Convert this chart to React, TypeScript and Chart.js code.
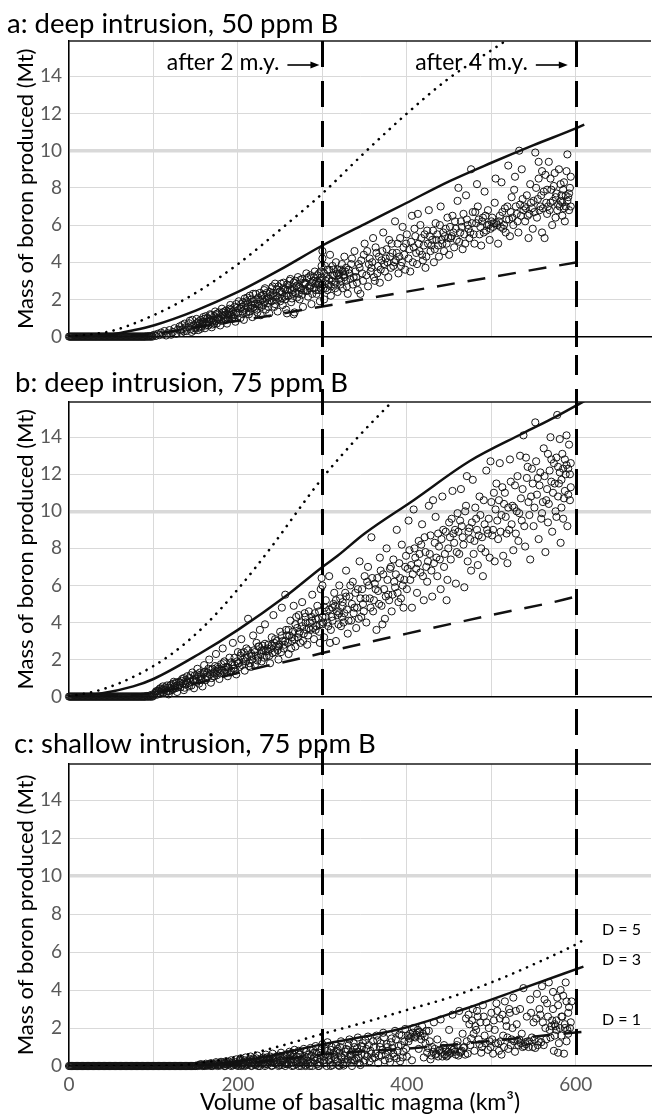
import React, { useEffect, useRef } from 'react';
import { Chart, registerables } from 'chart.js';

Chart.register(...registerables);

const FONT = 'Lato, "Open Sans", sans-serif';

// ---------- axes ----------
const X_MAX = 689;
const Y_MAX = 15.9;
const X_GRID = [0, 100, 200, 300, 400, 500, 600];
const X_LABELED = [0, 200, 400, 600];
const Y_TICKS = [0, 2, 4, 6, 8, 10, 12, 14];
const MARKER_VOLUMES = [300, 600];
const MARKER_LABELS = ['after 2 m.y.', 'after 4 m.y.'];
const Y_TITLE = 'Mass of boron produced (Mt)';
const X_TITLE = 'Volume of basaltic magma (km³)';
const D_LABELS = ['D = 5', 'D = 3', 'D = 1'];

// ---------- model curves [volume, Mt] ----------
const aD5 = [[0,0],[50,0.3],[100,1.15],[150,2.35],[200,3.9],[250,5.75],[300,7.7],[350,9.9],[400,12.0],[450,13.9],[500,15.4],[530,16.3]];
const aD3 = [[0,0],[25,0.02],[50,0.12],[75,0.33],[100,0.6],[150,1.4],[200,2.4],[250,3.6],[300,4.9],[350,6.05],[400,7.2],[450,8.35],[500,9.35],[550,10.3],[600,11.2],[610,11.4]];
const aD1 = [[0,0],[50,0.02],[100,0.15],[150,0.5],[200,0.85],[228,1.05],[300,1.62],[400,2.42],[500,3.2],[600,3.98],[610,4.05]];

const bD5 = [[0,0],[40,0.4],[80,1.15],[120,2.25],[160,3.8],[200,5.8],[240,8.1],[280,10.6],[300,11.8],[340,13.9],[380,15.8],[395,16.5]];
const bD3 = [[0,0],[36,0.15],[76,0.55],[100,0.95],[154,2.3],[200,3.6],[256,5.4],[300,7.0],[318,7.6],[350,8.8],[408,10.6],[474,12.7],[537,14.2],[576,15.1],[610,15.95]];
const bD1 = [[0,0],[100,0.2],[150,0.7],[193,1.2],[228,1.6],[263,1.95],[300,2.35],[400,3.4],[500,4.4],[600,5.4],[610,5.55]];

const cD5 = [[0,0],[100,0],[130,0.03],[154,0.15],[200,0.5],[250,1.05],[295,1.63],[350,2.3],[400,2.95],[450,3.6],[500,4.4],[550,5.35],[600,6.4],[609,6.63]];
const cD3 = [[0,0],[120,0],[150,0.02],[200,0.25],[250,0.65],[295,1.1],[350,1.55],[400,2.04],[470,3.03],[537,4.09],[609,5.23]];
const cD1 = [[0,0],[150,0],[200,0.1],[300,0.6],[424,1.0],[490,1.28],[568,1.63],[610,1.8]];

// ---------- model runs (scatter) ----------
const zeroBandAB = [0,1,2,3,4,5,6,7,8,9,10,11,12,13,14,15,16,17,18,19,20,21,22,23,24,25,26,27,28,29,30,31,32,33,34,35,36,37,38,39,40,41,42,43,44,45,46,47,48,49,50,51,52,53,54,55,56,57,58,59,60,61,62,63,64,65,66,67,68,69,70,71,72,73,74,75,76,77,78,79,80,81,82,83,84,85,86,87,88,89,90,91,93,94,96,97,99];
const zeroBandC = [0,1,2,3,4,5,6,7,8,9,10,11,12,13,14,15,16,17,18,19,20,21,22,23,24,25,26,27,28,29,30,31,32,33,34,35,36,37,38,39,40,41,42,43,44,45,46,47,48,49,50,51,52,53,54,55,56,57,58,59,60,61,62,63,64,65,66,67,68,69,70,71,72,73,74,75,76,77,78,79,80,81,82,83,84,85,86,87,88,89,90,91,92,93,94,95,96,97,98,99,100,101,102,103,104,105,106,107,108,109,110,111,112,113,114,115,116,117,118,119,120,121,122,123,124,125,126,127,128,129,130,131,132,133,134,135,136,137,138,139,140,141,142,143,144,145,146,147,148,149,150,160,168,176,184,192,200,208,216,224,232,240,248,256,264,272,280,288,296,310,320,335];

const scatterA = [
92,0.02,95,0.03,98,0.05,
101,0.1,103,0.04,105,0.15,107,0.08,109,0.22,111,0.12,113,0.3,115,0.06,117,0.18,119,0.35,121,0.1,123,0.25,125,0.45,127,0.15,129,0.38,
131,0.55,133,0.2,135,0.4,137,0.7,139,0.3,141,0.5,143,0.85,145,0.25,147,0.6,149,0.45,151,0.95,153,0.35,155,0.7,157,0.55,159,1.05,
161,0.45,163,0.8,165,0.6,167,1.2,169,0.5,171,0.9,173,1.35,175,0.7,177,1.0,179,0.6,181,1.5,183,0.85,185,1.15,187,0.7,189,1.3,191,1.7,193,0.95,195,1.2,197,0.8,199,1.55,
201,1.9,203,1.0,205,1.35,207,0.9,209,1.7,211,2.1,213,1.2,215,1.5,217,1.05,219,1.9,221,2.3,223,1.3,225,1.65,227,1.15,229,2.0,231,2.5,233,1.45,235,1.8,237,1.25,239,2.2,241,2.7,243,1.6,245,2.0,247,1.35,249,2.4,
251,2.85,253,1.7,255,2.15,257,1.45,259,2.5,261,3.0,263,1.85,265,2.3,267,1.3,269,2.7,271,3.2,273,2.0,275,2.5,277,1.6,279,2.85,281,3.4,283,2.15,285,2.6,287,1.75,289,3.0,291,3.5,293,2.3,295,2.8,297,1.9,299,3.2,300,4.6,300,4.2,299,3.8,298,2.6,296,3.4,258,1.25,266,1.2,
302,2.0,304,3.0,306,2.5,308,3.6,310,2.2,312,3.3,314,2.8,316,4.0,318,2.4,320,3.1,322,3.6,324,2.6,326,4.3,328,3.0,330,2.3,332,3.4,334,3.9,336,2.8,338,4.6,340,3.2,342,2.5,344,3.7,346,4.1,348,3.0,350,5.0,303,3.8,309,4.4,317,3.4,327,3.5,337,3.2,345,2.3,349,4.4,
352,3.3,354,2.7,356,4.2,358,3.7,360,5.3,362,3.0,364,4.5,366,3.8,368,2.9,370,4.1,372,5.6,374,3.5,376,4.7,378,3.2,380,4.3,382,5.0,384,3.8,386,6.2,388,4.5,390,3.4,392,5.3,394,4.0,396,4.8,398,3.6,400,5.5,355,3.9,365,3.4,375,4.2,385,4.0,395,5.9,
402,4.2,404,3.5,406,6.5,408,4.8,410,5.4,412,3.9,414,5.0,416,6.0,418,4.4,420,4.9,422,3.7,424,5.7,426,6.8,428,4.6,430,5.2,432,4.0,434,6.1,436,5.5,438,4.3,440,7.0,442,5.0,444,4.6,446,5.8,448,6.4,450,4.4,405,5.1,415,4.6,425,5.0,435,5.2,445,5.4,449,5.3,413,6.6,
452,5.3,454,6.5,456,4.8,458,5.8,460,7.3,462,5.1,464,6.2,466,4.7,468,5.5,470,7.6,472,6.0,474,5.3,476,9.0,478,6.7,480,5.0,482,6.1,484,7.0,486,5.5,488,4.9,490,6.4,492,7.8,494,5.7,496,6.8,498,5.2,500,6.2,455,5.6,465,5.9,475,5.6,485,6.3,495,6.0,461,8.0,483,8.2,
502,5.9,504,7.2,506,6.1,508,5.0,510,6.5,512,8.3,514,5.8,516,6.9,518,6.3,520,9.2,522,5.4,524,7.5,526,6.0,528,8.6,530,6.6,532,5.6,534,7.1,536,9.0,538,6.8,540,6.2,542,7.6,544,5.3,546,8.2,548,6.9,550,7.3,503,6.1,507,6.0,511,5.9,527,7.9,533,10.0,539,7.0,545,6.6,549,5.8,505,8.5,
552,9.9,554,6.4,556,8.5,558,7.0,560,5.6,562,7.8,564,8.7,566,6.6,568,9.4,570,7.2,572,6.0,574,8.1,576,7.5,578,6.8,580,9.0,582,7.3,584,6.5,586,8.3,588,7.0,590,9.8,592,6.8,594,8.6,555,7.4,561,6.9,567,7.0,573,7.3,579,7.1,583,7.6,587,6.2,591,7.5,593,8.0,563,5.3,575,8.8,585,7.9,589,8.9,
132,0.35,134,0.62,136,0.28,138,0.5,142,0.72,144,0.4,146,0.9,148,0.33,152,0.6,154,0.82,156,0.42,158,0.75,160,0.95,162,0.6,164,1.0,166,0.78,168,0.9,170,0.65,172,1.1,174,0.85,176,1.25,178,0.9,180,1.05,182,1.3,184,0.95,186,1.4,188,1.0,190,1.2,192,1.45,194,1.05,196,1.6,198,1.3,
202,1.5,204,1.75,206,1.2,208,1.45,210,1.9,212,1.6,214,1.35,216,2.0,218,1.55,220,1.75,222,1.45,224,2.1,226,1.9,228,1.6,230,2.25,232,1.85,234,2.05,236,1.6,238,2.4,240,1.9,242,2.15,244,1.75,246,2.55,248,2.1,250,1.9,252,2.4,254,2.6,256,2.0,258,2.8,260,2.2,262,2.55,264,2.05,266,2.9,268,2.35,270,2.1,272,2.65,274,3.05,276,2.25,278,2.5,280,2.9,282,2.45,284,3.2,286,2.75,288,2.3,290,2.6,292,2.85,294,3.3,296,2.5,298,3.0,
301,2.6,305,3.2,307,2.8,311,3.0,313,3.6,315,2.6,319,3.3,321,2.8,323,3.9,325,3.3,329,2.7,331,3.6,333,3.1,335,4.2,339,3.5,341,2.9,343,3.9,347,3.4,
353,4.6,357,3.5,359,4.0,361,3.2,363,4.8,367,4.3,369,3.6,371,4.6,373,3.9,377,4.0,379,5.2,381,3.7,383,4.5,387,4.1,389,5.0,391,4.3,393,3.8,397,4.4,399,5.0,
403,4.7,407,4.0,409,5.8,411,4.5,417,5.3,419,4.1,421,5.5,423,4.3,427,5.4,429,4.9,431,5.7,433,4.7,437,4.9,439,6.0,441,5.2,443,5.6,447,5.0,
451,5.9,453,5.4,457,6.2,459,5.2,463,5.6,467,6.6,469,5.0,471,6.3,473,5.8,477,6.1,479,5.5,481,6.7,487,5.9,489,6.2,491,5.6,493,6.5,497,6.0,499,5.8,
501,6.4,509,6.2,513,6.7,515,6.0,517,5.6,519,7.0,521,6.3,523,6.7,525,6.4,529,7.0,531,6.2,535,6.5,537,7.4,541,6.9,543,6.5,547,7.2,
551,6.7,553,8.0,557,6.8,559,7.6,565,7.2,569,6.8,571,7.9,577,7.7,581,7.0,584,7.2,586,6.9,590,7.3,592,7.7,594,7.0,588,7.6,582,8.2,576,6.4,570,8.5,566,7.9,560,8.9,556,9.4,
150,0.5,152,0.75,154,0.5,156,0.9,158,0.65,160,0.8,162,1.1,164,0.7,166,0.95,168,1.15,170,0.8,172,0.7,174,1.2,176,0.95,178,1.3,180,0.85,182,1.15,184,1.35,186,0.9,188,1.2,190,1.5,192,1.15,194,1.35,196,1.0,198,1.75,200,1.25,204,1.6,206,1.85,208,2.05,210,1.3,212,1.85,214,2.2,216,1.7,218,2.3,220,1.5,222,2.0,224,1.75,226,2.35,228,2.2,230,1.7,232,2.6,234,2.35,236,2.1,238,1.95,240,2.6,242,2.35,244,2.85,246,2.2,248,2.7,250,2.45,252,2.05,254,2.9,256,2.55,258,2.2,260,2.75,262,3.1,264,2.5,266,2.6,268,3.0,270,2.75,272,2.3,274,2.6,276,3.1,278,2.9,280,2.45,282,3.15,284,2.7,286,3.3,288,2.9,290,3.2,292,2.5,294,3.0,296,2.9,298,3.5,300,2.8,302,3.4,304,2.6,306,3.6,308,3.1,310,2.7,312,3.8,314,3.3,316,2.9,318,3.6,320,3.4,322,3.0,324,3.5,326,3.2,328,3.7
];

const scatterB = [
92,0.03,95,0.05,98,0.1,100,0.06,
102,0.2,104,0.1,106,0.3,108,0.15,110,0.4,112,0.22,114,0.5,116,0.3,118,0.12,120,0.6,122,0.35,124,0.7,126,0.45,128,0.25,130,0.8,132,0.5,134,0.95,136,0.35,138,0.65,140,1.1,142,0.55,144,0.8,146,1.3,148,0.45,150,0.95,
152,1.5,154,0.7,156,1.1,158,0.55,160,1.7,162,0.9,164,1.3,166,2.0,168,0.75,170,1.5,172,1.1,174,2.3,176,1.4,178,0.95,180,1.75,182,2.6,184,1.3,186,1.6,188,1.1,190,2.1,192,1.4,194,2.9,196,1.7,198,1.2,200,2.4,185,1.45,195,1.5,175,1.35,
202,1.6,204,3.1,206,2.0,208,1.4,210,2.6,212,4.2,214,1.8,216,2.3,218,3.3,220,1.7,222,2.9,224,2.1,226,3.6,228,1.9,230,2.5,232,3.9,234,2.2,236,2.8,238,1.8,240,3.2,242,4.4,244,2.4,246,3.0,248,2.0,250,3.5,215,1.6,225,2.7,235,2.6,245,2.7,
252,4.8,254,2.6,256,5.5,258,3.3,260,2.3,262,4.1,264,3.0,266,4.9,268,2.7,270,3.7,272,4.4,274,2.9,276,5.1,278,3.4,280,4.0,282,2.8,284,4.6,286,3.6,288,5.5,290,3.1,292,4.2,294,4.9,296,3.5,298,5.8,300,4.3,299,6.4,300,6.0,297,2.9,293,3.8,287,4.3,
302,3.2,304,5.2,306,4.0,308,6.5,310,3.6,312,4.8,314,5.6,316,3.0,318,4.4,320,6.0,322,3.8,324,5.1,326,4.5,328,6.8,330,3.4,332,5.4,334,4.1,336,6.2,338,4.8,340,3.7,342,5.8,344,7.3,346,4.3,348,5.0,350,6.5,305,4.6,315,4.9,325,4.0,335,5.0,345,5.3,309,2.9,
352,4.0,354,7.0,356,5.3,358,8.6,360,4.6,362,6.1,364,3.6,366,5.7,368,7.5,370,4.9,372,6.6,374,4.2,376,8.0,378,5.5,380,6.9,382,4.6,384,7.4,386,5.9,388,9.0,390,5.1,392,6.4,394,8.2,396,4.8,398,7.0,400,5.8,355,6.0,365,6.4,375,5.4,385,6.2,395,6.0,371,3.9,
402,9.5,404,6.3,406,4.8,408,10.1,410,7.5,412,5.6,414,8.4,416,6.7,418,9.3,420,5.2,422,7.8,424,6.2,426,10.3,428,8.7,430,5.4,432,7.2,434,9.7,436,6.5,438,8.1,440,5.8,442,10.8,444,7.0,446,8.9,448,6.3,450,9.4,405,7.1,415,7.7,425,7.3,435,7.5,445,7.7,431,10.6,447,5.2,
452,7.4,454,11.1,456,8.3,458,6.1,460,9.9,462,7.7,464,11.2,466,8.6,468,5.9,470,10.3,472,7.3,474,9.1,476,6.8,478,11.7,480,8.4,482,9.6,484,7.1,486,10.8,488,8.0,490,6.5,492,9.3,494,12.2,496,8.8,498,7.5,500,10.5,455,8.8,465,9.2,475,8.5,485,8.7,495,9.0,471,11.9,499,12.7,
502,9.0,504,7.3,506,11.5,508,8.5,510,12.6,512,9.8,514,7.6,516,11.0,518,8.8,520,10.2,522,12.8,524,9.3,526,7.9,528,11.4,530,10.0,532,8.4,534,13.0,536,9.5,538,14.1,540,8.1,542,11.8,544,10.5,546,7.4,548,12.3,550,9.2,505,10.1,515,10.4,525,10.3,535,10.7,545,9.8,519,7.2,541,12.9,
552,14.8,554,10.9,556,8.5,558,12.1,560,9.9,562,13.4,564,7.8,566,11.2,568,10.4,570,14.0,572,8.9,574,12.6,576,10.0,578,15.2,580,11.5,582,8.3,584,13.1,586,10.7,588,12.0,590,9.2,592,13.6,594,11.3,555,11.8,561,10.5,567,9.4,573,11.0,579,12.4,583,10.2,587,12.8,591,12.3,593,10.6,589,14.1,585,9.6,577,9.7,571,12.8,581,13.9,594,12.6,
101,0.12,103,0.28,105,0.18,107,0.4,109,0.25,111,0.55,113,0.35,115,0.2,117,0.48,119,0.3,121,0.65,123,0.42,125,0.55,127,0.75,129,0.5,131,0.62,133,0.85,135,0.7,137,0.48,139,0.9,141,0.72,143,1.0,145,0.6,147,0.9,149,1.15,151,0.8,153,1.05,155,1.3,157,0.9,159,1.2,161,1.35,163,1.05,165,1.5,167,1.2,169,1.0,171,1.3,173,1.65,175,1.15,177,1.5,179,1.25,181,1.4,183,1.8,187,1.35,189,1.55,191,1.3,193,1.7,197,1.4,199,1.9,
201,1.8,203,2.2,205,1.7,207,2.4,209,1.9,211,2.1,213,1.65,217,2.0,219,2.5,221,2.2,223,1.95,227,2.3,229,2.75,231,2.1,233,2.45,237,2.2,239,2.6,241,2.35,243,2.9,247,2.5,249,2.8,251,2.4,253,3.0,255,2.8,257,3.6,259,2.9,261,3.3,263,2.6,265,3.5,267,3.1,269,4.3,271,3.2,273,3.5,275,4.0,277,3.0,279,4.5,281,3.6,283,3.3,285,4.0,289,3.7,291,4.5,295,4.2,297,3.9,
301,4.0,303,4.8,307,3.8,311,4.3,313,5.0,317,4.6,319,3.9,321,5.3,323,4.3,327,5.6,329,4.7,331,4.1,333,6.0,337,4.5,339,5.6,341,4.8,343,4.2,347,5.8,349,4.6,351,5.3,353,6.2,357,4.8,359,6.4,361,5.2,363,5.8,367,5.0,369,6.8,373,5.8,377,6.3,379,5.2,381,7.0,383,5.5,387,6.6,389,5.6,391,7.2,393,5.3,397,6.3,399,7.6,
401,6.9,403,7.9,407,6.6,409,8.0,411,6.9,413,7.2,417,8.2,419,6.5,421,8.6,423,7.0,427,7.7,429,6.8,433,8.3,437,8.8,439,7.4,441,8.5,443,9.0,449,8.0,451,8.6,453,9.6,457,9.0,459,7.8,461,8.9,463,9.5,467,8.2,469,10.0,473,8.9,477,9.4,479,7.7,481,10.2,483,9.0,487,9.8,489,8.6,491,10.6,493,7.8,497,9.6,
501,8.7,503,11.0,507,9.5,509,10.6,511,8.9,513,11.3,517,9.7,521,9.0,523,11.6,527,10.2,529,8.8,531,11.9,533,9.9,537,11.2,539,9.2,543,12.4,547,10.8,549,11.5,551,10.2,553,12.7,557,11.4,559,9.6,563,11.9,565,10.6,569,12.2,575,11.5,579,10.8,581,12.1,583,11.7,587,11.1,589,12.5,591,10.9,593,12.0,585,12.3,577,12.9,571,11.6,567,13.1,
104,0.3,108,0.45,112,0.4,116,0.6,120,0.45,124,0.8,128,0.6,132,0.75,136,1.0,140,0.8,144,1.15,148,0.9,152,1.2,156,0.95,160,1.3,164,1.1,168,1.45,172,1.25,176,1.6,180,1.45,184,1.9,188,1.6,192,1.85,196,2.1,200,1.8,204,2.35,208,2.1,212,2.5,216,2.2,220,2.4,224,2.7,228,2.5,232,2.85,236,2.45,240,2.75,244,3.1,248,2.7,252,3.3,256,3.0,260,3.6,264,3.2,268,3.9,272,3.4,276,3.8,280,4.3,284,3.7,288,4.1,292,3.6,296,4.6,300,3.9,304,4.3,308,4.7,312,4.1,316,5.2,320,4.5,324,4.9,328,5.4
];

const scatterC = [
152,0,155,0.02,158,0,161,0.05,164,0.01,167,0.08,170,0,173,0.04,176,0.1,179,0.02,182,0.12,185,0,188,0.06,191,0.15,194,0.03,197,0.2,200,0.08,
202,0.25,204,0,206,0.12,208,0.3,210,0.05,212,0.18,214,0.35,216,0.02,218,0.22,220,0.1,222,0.4,224,0.15,226,0,228,0.28,230,0.45,232,0.08,234,0.32,236,0.18,238,0.5,240,0.03,242,0.24,244,0.4,246,0.12,248,0.55,250,0.3,
252,0.05,254,0.42,256,0.2,258,0.62,260,0.1,262,0.35,264,0.7,266,0.02,268,0.25,270,0.5,272,0.8,274,0.15,276,0.4,278,0.9,280,0.06,282,0.3,284,0.6,286,0.95,288,0.2,290,0.45,292,1.05,294,0.1,296,0.7,298,0.35,300,1.15,285,0,295,0,275,0,
302,0.15,304,0.6,306,1.25,308,0.3,310,0.85,312,0.05,314,0.45,316,1.1,318,0.25,320,0.7,322,1.3,324,0.1,326,0.55,328,0.9,330,0.35,332,1.4,334,0.2,336,0.75,338,1.0,340,0.4,342,1.5,344,0.15,346,0.6,348,1.2,350,0.3,305,0,325,0.02,345,0.05,
352,0.9,354,1.55,356,0.25,358,0.65,360,1.3,362,0.45,364,1.6,366,0.15,368,1.0,370,0.55,372,1.75,374,0.3,376,1.15,378,0.8,380,0.2,382,1.45,384,0.65,386,1.85,388,0.4,390,1.05,392,0.25,394,1.6,396,0.75,398,1.95,400,0.5,
402,1.3,404,1.7,406,0.3,408,2.0,410,1.5,412,1.75,414,0.9,416,1.6,418,2.1,420,0.45,422,1.2,424,0.7,426,1.85,428,0.35,430,1.0,432,2.3,434,0.6,436,1.4,438,0.8,440,2.45,442,0.5,444,1.1,446,0.85,448,0.55,450,1.9,405,1.55,415,1.8,425,0.95,
452,0.7,454,2.7,456,0.9,458,0.6,460,1.3,462,2.9,464,0.75,466,1.7,468,1.0,470,2.5,472,0.65,474,2.2,476,1.45,478,3.0,480,0.8,482,1.9,484,2.6,486,1.15,488,0.7,490,3.2,492,1.6,494,2.3,496,0.85,498,1.3,500,2.8,455,0.85,465,0.8,475,1.1,485,1.4,
502,0.65,504,1.9,506,3.3,508,1.2,510,2.5,512,0.6,514,1.6,516,3.4,518,2.1,520,0.9,522,2.8,524,1.4,526,3.6,528,0.75,530,2.2,532,1.1,534,3.0,536,1.7,538,4.1,540,1.25,542,2.6,544,1.0,546,3.5,548,1.5,550,2.3,535,1.2,539,1.05,545,1.3,531,1.35,
552,0.95,554,3.8,556,1.3,558,2.7,560,4.2,562,1.1,564,2.0,566,3.3,568,4.4,570,1.5,572,2.4,574,0.8,576,2.1,578,3.6,580,1.2,582,4.0,584,2.6,586,0.65,588,4.4,590,1.9,592,3.1,594,2.3,575,2.2,577,1.9,583,1.6,587,2.0,591,1.7,573,3.0,589,3.4,579,0.7,
153,0.05,156,0.1,159,0.03,162,0.12,165,0.06,168,0.15,171,0.09,174,0.2,177,0.05,180,0.22,183,0.08,186,0.25,189,0.12,192,0.3,195,0.1,198,0.35,201,0.14,203,0.4,205,0.05,207,0.2,209,0.45,211,0.1,213,0.28,215,0.5,217,0.15,219,0.35,221,0.05,223,0.55,225,0.25,227,0.12,229,0.4,231,0.2,233,0.6,235,0.08,237,0.3,239,0.22,241,0.65,243,0.15,245,0.48,247,0.3,249,0.05,251,0.7,253,0.25,255,0.55,257,0.1,259,0.38,261,0.75,263,0.18,265,0.5,267,0.85,269,0.1,271,0.3,273,0.6,277,0.22,279,0.5,281,0.75,283,0.12,287,0.55,289,0.85,291,0.28,293,0.65,297,0.2,299,0.9,
301,0.5,303,0.9,307,0.55,309,0.2,311,1.0,313,0.7,315,0.35,317,0.8,319,0.05,321,1.0,323,0.45,327,0.75,329,0.15,331,1.1,333,0.6,335,0.3,337,1.2,339,0.7,341,0.95,343,0.45,347,1.0,349,0.2,351,1.35,353,0.5,355,1.1,357,0.8,359,0.4,361,1.0,363,0.65,365,1.35,367,0.55,369,1.2,371,0.85,373,1.5,375,0.6,377,1.0,379,0.4,381,1.25,383,0.95,385,0.5,387,1.4,389,0.8,391,1.65,393,1.1,395,0.45,397,1.3,399,0.9,401,1.6,403,1.45,407,1.75,409,1.55,411,1.65,413,1.9,417,1.4,419,1.7,421,1.55,423,1.85,427,1.3,429,0.55,431,0.75,433,0.9,435,0.65,437,0.5,439,0.85,441,0.7,443,0.95,445,0.6,447,0.5,449,0.75,
451,0.65,453,0.9,457,0.75,459,1.1,461,0.55,463,0.7,467,0.95,469,0.6,471,1.3,473,2.7,477,2.4,479,1.7,481,2.1,483,2.9,487,2.3,489,1.0,491,2.6,493,1.2,497,2.0,499,1.0,501,1.4,503,2.4,505,1.2,507,2.9,509,0.8,511,1.3,513,2.7,515,1.0,517,2.4,519,1.5,521,3.0,523,1.1,525,2.0,527,1.3,529,2.9,533,1.4,537,1.0,541,1.15,543,1.3,547,2.8,549,1.0,551,1.4,553,2.5,555,1.1,557,3.0,559,1.25,561,2.3,563,3.5,565,1.4,567,2.6,569,1.9,571,2.1,573,3.9,575,1.6,577,2.4,579,3.2,581,2.0,583,2.6,585,3.7,587,2.2,589,1.3,591,2.8,593,2.0,595,3.4,
150,0.01,154,0.03,158,0.06,162,0.02,166,0.1,170,0.05,174,0.13,178,0.08,182,0.18,186,0.1,190,0.22,194,0.16,198,0.05,202,0.3,206,0.18,210,0.25,214,0.12,218,0.4,222,0.22,226,0.33,230,0.15,234,0.45,238,0.26,242,0.38,246,0.2,250,0.5,254,0.3,258,0.15,262,0.55,266,0.36,270,0.22,274,0.62,278,0.3,282,0.45,286,0.18,290,0.7,294,0.38,298,0.55,302,0.3,306,0.8,310,0.42,314,0.6,318,0.9,322,0.5,326,0.35,330,0.85,334,0.5,338,0.3,342,0.75,346,1.05,350,0.6
];

// ---------- panel layout ----------
const PANELS = [
  { key: 'a', title: 'a: deep intrusion, 50 ppm B', top: 0, height: 355, areaTop: 41, areaBottom: 343, titleX: 7, titleBase: 33,
    zero: zeroBandAB, scatter: scatterA, d5: aD5, d3: aD3, d1: aD1, showX: false, markFromArea: true, markToArea: false, markerText: true, dText: false },
  { key: 'b', title: 'b: deep intrusion, 75 ppm B', top: 355, height: 360, areaTop: 47, areaBottom: 349, titleX: 15, titleBase: 37,
    zero: zeroBandAB, scatter: scatterB, d5: bD5, d3: bD3, d1: bD1, showX: false, markFromArea: false, markToArea: false, markerText: false, dText: false },
  { key: 'c', title: 'c: shallow intrusion, 75 ppm B', top: 715, height: 400, areaTop: 49, areaBottom: 351, titleX: 14, titleBase: 38,
    zero: zeroBandC, scatter: scatterC, d5: cD5, d3: cD3, d1: cD1, showX: true, markFromArea: false, markToArea: true, markerText: false, dText: true },
];

function pairsToXY(pairs) {
  return pairs.map(([x, y]) => ({ x, y }));
}
function flatToXY(arr) {
  const out = [];
  for (let i = 0; i < arr.length; i += 2) out.push({ x: arr[i], y: arr[i + 1] });
  return out;
}

function makeConfig(p) {
  const lineBase = { showLine: true, pointRadius: 0, fill: false, cubicInterpolationMode: 'monotone', borderColor: '#111' };
  const overlay = {
    id: 'overlay' + p.key,
    afterDraw(chart) {
      const { ctx, chartArea } = chart;
      const xs = chart.scales.x;
      ctx.save();
      ctx.strokeStyle = '#1a1a1a';
      ctx.lineWidth = 1.4;
      ctx.beginPath();
      ctx.moveTo(chartArea.left, chartArea.top);
      ctx.lineTo(chartArea.right, chartArea.top);
      ctx.stroke();

      ctx.strokeStyle = '#000';
      ctx.lineWidth = 3;
      ctx.setLineDash([26, 14]);
      MARKER_VOLUMES.forEach((v) => {
        const px = Math.round(xs.getPixelForValue(v)) + 0.5;
        const y0 = p.markFromArea ? chartArea.top : 0;
        const y1 = p.markToArea ? chartArea.bottom : chart.height;
        ctx.lineDashOffset = -((p.top + y0 - 41) % 40);
        ctx.beginPath();
        ctx.moveTo(px, y0);
        ctx.lineTo(px, y1);
        ctx.stroke();
      });
      ctx.setLineDash([]);

      ctx.fillStyle = '#000';
      ctx.font = `27.5px ${FONT}`;
      ctx.textAlign = 'left';
      ctx.textBaseline = 'alphabetic';
      ctx.fillText(p.title, p.titleX, p.titleBase);

      ctx.save();
      ctx.translate(33, (chartArea.top + chartArea.bottom) / 2);
      ctx.rotate(-Math.PI / 2);
      ctx.font = `22px ${FONT}`;
      ctx.textAlign = 'center';
      ctx.fillText(Y_TITLE, 0, 0);
      ctx.restore();

      if (p.markerText) {
        ctx.font = `23px ${FONT}`;
        ctx.textAlign = 'right';
        MARKER_VOLUMES.forEach((v, i) => {
          const px = xs.getPixelForValue(v);
          const tip = px - (i === 0 ? 3 : 8);
          const start = tip - 32;
          const ay = 65;
          ctx.fillText(MARKER_LABELS[i], start - 8, 70);
          ctx.lineWidth = 1.6;
          ctx.strokeStyle = '#000';
          ctx.beginPath();
          ctx.moveTo(start, ay);
          ctx.lineTo(tip - 7, ay);
          ctx.stroke();
          ctx.beginPath();
          ctx.moveTo(tip, ay);
          ctx.lineTo(tip - 9, ay - 3.5);
          ctx.lineTo(tip - 9, ay + 3.5);
          ctx.closePath();
          ctx.fill();
        });
      }

      if (p.dText) {
        ctx.font = `16px ${FONT}`;
        ctx.textAlign = 'left';
        ctx.fillText(D_LABELS[0], 602, 220);
        ctx.fillText(D_LABELS[1], 602, 250);
        ctx.fillText(D_LABELS[2], 602, 310);
      }

      if (p.showX) {
        ctx.font = `23px ${FONT}`;
        ctx.textAlign = 'center';
        ctx.fillText(X_TITLE, (chartArea.left + chartArea.right) / 2, 395);
      }
      ctx.restore();
    },
  };

  return {
    type: 'scatter',
    data: {
      datasets: [
        { ...lineBase, data: pairsToXY(p.d5), borderWidth: 2.6, borderDash: [0.1, 7.4], borderCapStyle: 'round', borderColor: '#000' },
        { ...lineBase, data: pairsToXY(p.d3), borderWidth: 2.5 },
        { ...lineBase, data: pairsToXY(p.d1), borderWidth: 2.5, borderDash: [18, 13] },
        {
          data: p.zero.map((x) => ({ x, y: 0 })).concat(flatToXY(p.scatter)),
          pointRadius: 3.6,
          pointBorderWidth: 1,
          pointBorderColor: '#141414',
          pointBackgroundColor: 'rgba(0,0,0,0)',
          showLine: false,
          clip: 8,
        },
      ],
    },
    options: {
      responsive: false,
      animation: false,
      events: [],
      layout: { padding: { top: p.areaTop, left: 0, right: 0, bottom: 0 } },
      plugins: { legend: { display: false }, tooltip: { enabled: false }, title: { display: false } },
      scales: {
        x: {
          type: 'linear',
          min: 0,
          max: X_MAX,
          afterBuildTicks: (s) => { s.ticks = X_GRID.map((v) => ({ value: v })); },
          afterFit: (s) => { s.height = p.height - p.areaBottom; },
          grid: { color: '#d9d9d9', lineWidth: 1, drawTicks: false },
          border: { color: '#000', width: 1.5 },
          ticks: {
            display: p.showX,
            padding: 7,
            autoSkip: false,
            maxRotation: 0,
            color: '#595959',
            font: { family: FONT, size: 19 },
            callback: (v) => (X_LABELED.includes(v) ? String(v) : ''),
          },
        },
        y: {
          type: 'linear',
          min: 0,
          max: Y_MAX,
          afterBuildTicks: (s) => { s.ticks = Y_TICKS.map((v) => ({ value: v })); },
          afterFit: (s) => { s.width = 69; },
          grid: {
            color: '#d9d9d9',
            lineWidth: (c) => (c.tick && c.tick.value === 10 ? 3.5 : 1),
            drawTicks: false,
          },
          border: { color: '#000', width: 1.5 },
          ticks: { padding: 7, color: '#595959', font: { family: FONT, size: 19 } },
        },
      },
    },
    plugins: [overlay],
  };
}

function Panel({ p }) {
  const ref = useRef(null);
  useEffect(() => {
    const chart = new Chart(ref.current, makeConfig(p));
    return () => chart.destroy();
  }, [p]);
  return (
    <canvas
      ref={ref}
      width={656}
      height={p.height}
      style={{ position: 'absolute', left: 0, top: p.top, width: 656, height: p.height, display: 'block' }}
    />
  );
}

export default function App() {
  return (
    <div style={{ position: 'absolute', left: 0, top: 0, width: 656, height: 1115, background: '#fff', overflow: 'hidden' }}>
      {PANELS.map((p) => (
        <Panel key={p.key} p={p} />
      ))}
    </div>
  );
}
